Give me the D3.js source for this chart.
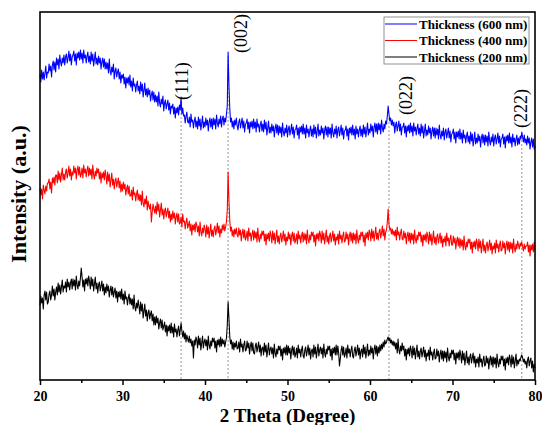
<!DOCTYPE html>
<html>
<head>
<meta charset="utf-8">
<script src="https://cdn.jsdelivr.net/npm/d3@7/dist/d3.min.js"></script>
<style>
  html, body { margin: 0; padding: 0; background: #fff; }
  svg { display: block; }
  text { font-family: "Liberation Serif", "Times New Roman", serif; }
</style>
</head>
<body>
<svg id="chart" width="542" height="425"></svg>
<script>
// XRD patterns of films of three thicknesses, 2θ from 20° to 80° in 0.1° steps.
const angleStart = 20;
const angleStep = 0.1;

const seriesNames = ["Thickness (600 nm)", "Thickness (400 nm)", "Thickness (200 nm)"];
const seriesColors = ["#0000ff", "#ff0000", "#000000"];

// Intensity (a.u.), stacked with a vertical offset per film; one row per degree
const thick600 = [
  306,298,310,301,308,300,307,314,302,308,
  307,316,309,314,303,315,319,310,318,308,
  322,315,321,311,325,318,314,322,317,325,
  315,323,326,317,322,329,319,326,315,323,
  325,329,319,326,315,327,322,328,320,330,
  321,327,317,330,322,325,317,324,328,318,
  324,316,328,319,326,314,321,328,316,322,
  315,324,317,322,311,318,322,313,321,311,
  318,311,317,307,321,309,305,313,308,316,
  301,309,312,303,308,311,301,308,297,305,
  302,306,296,303,292,302,297,303,295,305,
  293,299,289,302,294,296,288,295,299,289,
  294,286,298,289,296,283,290,297,285,291,
  283,292,285,290,279,285,289,280,288,278,
  285,278,284,274,288,277,273,281,276,284,
  269,277,280,271,276,280,270,277,266,274,
  272,276,266,273,262,272,267,273,265,275,
  270,283,266,272,264,265,257,264,268,258,
  257,263,253,266,258,260,252,259,263,253,
  259,251,263,254,261,250,257,264,252,258,
  253,262,255,260,249,258,262,253,261,251,
  262,255,261,251,265,257,253,261,256,264,
  253,261,264,255,262,258,266,274,328,296,
  272,258,262,253,259,251,260,255,262,254,
  250,258,261,252,257,262,252,259,248,256,
  257,261,251,258,247,258,253,259,251,261,
  252,258,248,261,253,256,248,255,259,249,
  256,248,260,251,258,245,252,259,247,253,
  247,256,249,254,243,252,256,247,255,245,
  254,247,253,243,257,248,244,252,247,255,
  243,251,254,245,250,256,246,253,242,250,
  251,255,245,252,241,253,248,254,246,256,
  246,252,242,255,247,251,243,250,254,244,
  251,243,255,246,253,242,249,256,244,250,
  245,254,247,252,241,250,254,245,253,243,
  253,246,252,242,256,247,243,251,246,254,
  242,250,253,244,249,255,245,252,241,249,
  250,254,244,251,240,252,247,253,245,255,
  245,251,241,254,246,251,243,250,254,244,
  251,243,255,246,253,243,250,257,245,251,
  247,256,249,254,243,253,257,248,256,246,
  257,250,256,246,260,252,248,256,251,259,
  256,264,274,266,259,262,255,260,254,258,
  247,255,258,249,254,259,249,256,245,253,
  253,257,247,254,243,254,249,255,247,257,
  248,254,244,257,249,253,245,252,256,246,
  252,244,256,247,254,242,249,256,244,250,
  245,254,247,252,241,249,253,244,252,242,
  252,245,251,241,255,245,241,249,244,252,
  240,248,251,242,247,252,242,249,238,246,
  247,251,241,248,237,248,243,249,241,251,
  241,247,237,250,242,245,237,244,248,238,
  244,236,248,239,246,234,241,248,236,242,
  237,246,239,244,233,242,246,237,245,235,
  245,238,244,234,248,239,235,243,238,246,
  234,242,245,236,241,247,237,244,233,241,
  242,246,236,243,232,244,239,245,237,247,
  237,243,233,246,238,242,234,241,245,235,
  242,236,244,241,248,243,238,245,237,241,
  235,244,237,242,231,238,242,233,241,231,
  234
];
const thick400 = [
  192,185,191,181,195,190,186,194,189,197,
  197,201,191,198,187,202,197,203,195,205,
  205,197,209,200,207,198,205,212,200,206,
  200,208,211,202,207,214,204,211,200,208,
  205,214,207,212,201,210,214,205,213,203,
  206,212,202,215,207,211,203,210,214,204,
  212,205,211,201,215,205,201,209,204,212,
  207,211,201,208,197,207,202,208,200,210,
  204,196,208,199,206,193,200,207,195,201,
  191,199,202,193,198,202,192,199,188,196,
  189,198,191,196,185,191,195,186,194,184,
  184,190,180,193,185,187,179,186,190,180,
  186,179,185,175,189,177,173,181,176,184,
  170,179,174,171,176,158,168,176,171,167,
  174,166,178,169,176,163,170,177,165,171,
  161,169,172,163,168,172,162,169,158,166,
  160,169,162,167,156,163,167,158,166,156,
  157,163,153,166,158,159,151,158,162,152,
  155,159,149,156,145,155,150,156,148,158,
  155,148,154,144,158,148,144,152,147,155,
  151,143,155,146,153,142,149,156,144,150,
  143,151,154,145,150,157,147,154,143,151,
  147,155,150,156,149,153,158,170,208,180,
  160,149,153,144,150,143,151,146,152,145,
  143,152,145,150,139,147,151,142,150,140,
  143,149,139,152,144,147,139,146,150,140,
  149,142,148,138,152,142,138,146,141,149,
  145,149,139,146,135,146,141,147,139,149,
  145,137,149,140,147,136,143,150,138,144,
  136,144,147,138,143,149,139,146,135,143,
  139,148,141,146,135,144,148,139,147,137,
  140,146,136,149,141,145,137,144,148,138,
  147,140,146,136,150,141,137,145,140,148,
  144,148,138,145,134,146,141,147,139,149,
  145,137,149,140,147,136,143,150,138,144,
  136,144,147,138,143,149,139,146,135,143,
  140,146,136,149,141,145,137,144,148,138,
  139,148,141,146,135,144,148,139,147,137,
  147,140,146,136,150,141,137,145,140,148,
  144,148,138,145,134,147,142,148,140,150,
  147,139,151,142,149,139,146,153,141,147,
  140,148,151,142,147,154,144,151,140,148,
  150,158,171,156,150,152,146,151,145,149,
  144,150,140,153,145,148,140,147,151,141,
  140,149,142,147,136,144,148,139,147,137,
  147,140,146,136,150,141,137,145,140,148,
  144,148,138,145,134,145,140,146,138,148,
  144,136,148,139,146,135,142,149,137,143,
  135,143,146,137,142,147,137,144,133,141,
  138,144,134,147,139,142,134,141,145,135,
  135,144,137,142,131,139,143,134,142,132,
  141,134,140,130,144,134,130,138,133,141,
  137,141,131,138,127,138,133,139,131,141,
  137,129,141,132,139,127,134,141,129,135,
  127,135,138,129,134,140,130,137,126,134,
  131,137,127,140,132,136,128,135,139,129,
  130,139,132,137,126,135,139,130,138,128,
  138,131,137,127,141,132,128,136,131,139,
  135,131,137,134,138,133,129,136,131,134,
  134,138,128,135,124,135,130,136,128,138,
  130
];
const thick200 = [
  75,84,77,82,71,85,89,80,88,76,
  78,86,89,80,85,94,84,91,80,88,
  93,85,97,88,95,86,93,100,88,94,
  92,98,88,101,93,98,90,97,101,91,
  101,94,100,90,104,95,91,99,94,102,
  112,103,93,100,89,101,96,102,94,104,
  99,91,103,94,101,89,96,103,91,97,
  87,95,98,89,94,99,89,96,85,93,
  87,96,89,94,83,90,94,85,93,83,
  88,92,82,89,78,88,83,89,81,91,
  80,86,76,89,81,83,75,82,86,76,
  82,75,81,71,85,73,69,77,72,80,
  74,66,78,69,76,62,69,76,64,70,
  59,67,70,61,66,69,59,66,55,63,
  55,64,57,62,51,57,61,52,60,50,
  54,58,48,55,44,54,49,55,47,57,
  47,53,43,56,48,51,43,50,54,44,
  50,57,49,43,49,41,47,38,45,41,
  38,44,37,41,34,39,22,40,35,43,
  40,32,44,35,42,30,37,44,32,38,
  41,34,40,30,44,35,31,39,34,42,
  38,42,32,39,28,40,35,41,33,43,
  34,41,36,40,33,38,42,55,78,62,
  44,36,40,31,38,30,37,33,39,31,
  32,38,28,41,33,36,28,35,39,29,
  30,39,32,37,26,34,38,29,37,27,
  26,34,37,28,33,38,28,35,24,32,
  33,25,37,28,35,23,30,37,25,31,
  33,26,32,22,36,27,23,31,26,34,
  30,34,24,31,20,32,27,33,25,35,
  25,34,27,32,21,30,34,25,33,23,
  26,32,22,35,27,31,23,30,34,24,
  22,30,33,24,29,35,25,32,21,29,
  31,23,35,26,33,22,29,36,24,30,
  33,26,32,22,36,27,23,31,26,34,
  30,34,24,31,20,32,27,33,25,35,
  25,34,27,14,21,30,34,25,33,23,
  26,32,22,35,27,31,23,30,34,24,
  22,30,33,24,29,35,25,32,21,29,
  31,23,35,26,33,22,29,36,24,30,
  25,34,27,32,21,31,35,26,34,24,
  33,27,35,29,36,31,38,33,40,36,
  38,41,43,39,42,37,40,35,39,34,
  38,31,37,27,41,30,26,34,29,37,
  30,34,24,31,20,31,26,32,24,34,
  30,22,34,25,32,21,28,35,23,29,
  21,29,32,23,28,33,23,30,19,27,
  24,30,20,33,25,28,20,27,31,21,
  22,31,24,29,18,26,30,21,29,19,
  29,22,28,18,32,23,19,27,22,30,
  26,30,20,27,16,27,22,28,20,30,
  25,17,29,20,27,15,22,29,17,23,
  15,23,26,17,22,27,17,24,13,21,
  17,23,13,26,18,21,13,20,24,14,
  15,24,17,22,11,20,24,15,23,13,
  23,16,22,12,26,17,13,21,16,24,
  20,24,14,21,10,22,17,23,15,25,
  21,13,25,16,23,12,19,26,14,20,
  16,21,19,23,25,22,18,21,16,19,
  12,20,23,14,19,22,12,19,8,16,
  12
];

// Reflections marked on the patterns
const hklLabels = ["(111)", "(002)", "(022)", "(222)"];
const hklAngles = [37.1, 42.8, 62.3, 78.4];

const xTicks = [20, 30, 40, 50, 60, 70, 80];
const xMinorTicks = [25, 35, 45, 55, 65, 75];

const svg = d3.select("#chart");
const margin = { left: 40, right: 7, top: 12, bottom: 45 };
const W = 542, H = 425;
const x0 = margin.left, x1 = W - margin.right;
const y0 = H - margin.bottom, y1 = margin.top;

const x = d3.scaleLinear().domain([20, 80]).range([x0, x1]);
const y = d3.scaleLinear().domain([0, 368]).range([y0, y1]);

const series = [thick600, thick400, thick200].map((vals, i) => ({
  name: seriesNames[i],
  color: seriesColors[i],
  points: vals.map((v, k) => ({ a: angleStart + k * angleStep, v }))
}));

// dashed guides for the reflections, dropping from the top pattern to the axis
const upperPattern = series[0].points;
hklAngles.forEach(a => {
  const k = Math.round((a - angleStart) / angleStep);
  svg.append("line")
    .attr("x1", x(a)).attr("x2", x(a))
    .attr("y1", y(upperPattern[k].v) + 4).attr("y2", y0)
    .attr("stroke", "#8a8a8a")
    .attr("stroke-width", 0.9)
    .attr("stroke-dasharray", "2,2");
});

const line = d3.line().x(d => x(d.a)).y(d => y(d.v));
series.forEach(s => {
  svg.append("path")
    .datum(s.points)
    .attr("d", line)
    .attr("fill", "none")
    .attr("stroke", s.color)
    .attr("stroke-width", 1.1)
    .attr("stroke-linejoin", "round");
});

// reflection labels, rotated and set beside each guide
const labelPlace = [
  { dx: 1, base: 100 },
  { dx: 13, base: 53 },
  { dx: 17, base: 115 },
  { dx: -1.5, base: 128 }
];
hklLabels.forEach((t, i) => {
  svg.append("text")
    .attr("transform", `translate(${x(hklAngles[i]) + labelPlace[i].dx},${labelPlace[i].base}) rotate(-90)`)
    .attr("dy", "0.35em")
    .attr("font-size", 18)
    .attr("fill", "#000")
    .text(t);
});

// frame
svg.append("rect")
  .attr("x", x0).attr("y", y1)
  .attr("width", x1 - x0).attr("height", y0 - y1)
  .attr("fill", "none")
  .attr("stroke", "#000")
  .attr("stroke-width", 1.6);

// bottom axis: labelled major ticks and short minor ticks
const gx = svg.append("g").attr("transform", `translate(0,${y0})`)
  .call(d3.axisBottom(x).tickValues(xTicks).tickSize(5).tickPadding(6).tickFormat(d3.format("d")));
gx.select(".domain").remove();
gx.selectAll(".tick line").attr("stroke-width", 1.5);
gx.selectAll(".tick text")
  .attr("font-size", 14).attr("font-weight", "bold")
  .attr("font-family", "'Liberation Serif', 'Times New Roman', serif");

const gm = svg.append("g").attr("transform", `translate(0,${y0})`)
  .call(d3.axisBottom(x).tickValues(xMinorTicks).tickSize(3).tickFormat(""));
gm.select(".domain").remove();
gm.selectAll(".tick line").attr("stroke-width", 1.5);

// axis titles
svg.append("text")
  .attr("x", (x0 + x1) / 2).attr("y", 422)
  .attr("text-anchor", "middle")
  .attr("font-size", 19).attr("font-weight", "bold")
  .text("2 Theta (Degree)");

svg.append("text")
  .attr("transform", `translate(26,${(120 + 268) / 2}) rotate(-90)`)
  .attr("text-anchor", "middle")
  .attr("font-size", 22).attr("font-weight", "bold")
  .text("Intensity (a.u.)");

// legend
const lg = svg.append("g");
lg.append("rect")
  .attr("x", 384).attr("y", 17).attr("width", 145).attr("height", 47)
  .attr("fill", "#fff").attr("stroke", "#777").attr("stroke-width", 0.8);
series.forEach((s, i) => {
  const ly = 24 + i * 16.5;
  lg.append("line")
    .attr("x1", 385).attr("x2", 417).attr("y1", ly).attr("y2", ly)
    .attr("stroke", s.color).attr("stroke-width", 1);
  lg.append("text")
    .attr("x", 419).attr("y", ly).attr("dy", "0.35em")
    .attr("font-size", 13).attr("font-weight", "bold")
    .text(s.name);
});
</script>
</body>
</html>
